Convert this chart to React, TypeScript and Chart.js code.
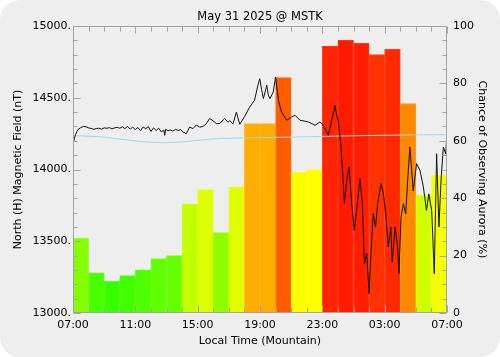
import { useEffect, useRef } from 'react';
import { Chart, registerables } from 'chart.js';

Chart.register(...registerables);

const chartTitle = 'May 31 2025 @ MSTK';
const xTitle = 'Local Time (Mountain)';
const leftTitle = 'North (H) Magnetic Field (nT)';
const rightTitle = 'Chance of Observing Aurora (%)';

// hourly bars, starting 07:00 local
const barHours = [7, 8, 9, 10, 11, 12, 13, 14, 15, 16, 17, 18, 19, 20, 21, 22, 23, 0, 1, 2, 3, 4, 5, 6];
const auroraChance = [26, 14, 11, 13, 15, 19, 20, 38, 43, 28, 44, 66, 66, 82, 49, 50, 93, 95, 94, 90, 92, 73, 41, 48];

// magnetic field: minutes since 07:00, value nT
const fieldMinutes = [
  0, 5, 10, 15, 20, 30, 40, 50, 60, 70, 80, 90, 100, 110, 120, 130, 140, 150, 160, 170,
  180, 190, 200, 210, 220, 230, 240, 250, 260, 270, 280, 290, 300, 310, 320, 330, 340, 350, 353, 357,
  365, 375, 385, 395, 405, 415, 423, 436, 449, 462, 475, 488, 500, 513, 526, 539, 552, 565, 584, 597,
  603, 616, 629, 635, 642, 661, 680, 699, 712, 719, 726, 733, 746, 752, 758, 771, 780, 791, 803, 823,
  842, 855, 874, 890, 906, 920, 932, 951, 964, 983, 996, 1009, 1015, 1021, 1032, 1037, 1045, 1054, 1063, 1073,
  1083, 1092, 1105, 1114, 1122, 1131, 1140, 1147, 1156, 1165, 1173, 1186, 1195, 1204, 1214, 1224, 1229, 1240, 1250, 1255,
  1263, 1272, 1281, 1291, 1297, 1304, 1310, 1323, 1336, 1349, 1361, 1370, 1381, 1391, 1400, 1409, 1417, 1426, 1435, 1440,
];
const fieldValues = [
  14169, 14215, 14245, 14265, 14280, 14292, 14300, 14298, 14290, 14286, 14280, 14285, 14288, 14281, 14290, 14287, 14292, 14283, 14290, 14294,
  14288, 14297, 14285, 14300, 14282, 14295, 14278, 14293, 14270, 14296, 14284, 14299, 14265, 14290, 14272, 14288, 14262, 14275, 14238, 14280,
  14270, 14275, 14268, 14280, 14272, 14278, 14262, 14250, 14296, 14285, 14310, 14295, 14300, 14318, 14355, 14340, 14320, 14320, 14355, 14330,
  14340, 14318, 14400, 14360, 14315, 14370, 14435, 14482, 14587, 14633, 14560, 14494, 14587, 14520, 14494, 14540, 14644, 14482, 14400, 14343,
  14366, 14378, 14343, 14338, 14331, 14320, 14308, 14331, 14308, 14238, 14343, 14447, 14380, 14343, 14157, 14017, 13762, 13925, 14017, 13762,
  13576, 13715, 13937, 13762, 13344, 13414, 13135, 13414, 13692, 13600, 13762, 13902, 13832, 13692, 13460, 13599, 13355, 13599, 13460, 13274,
  13669, 13762, 13692, 13994, 14157, 13994, 13850, 14041, 13994, 13878, 13715, 13830, 13715, 13274, 14110, 13599, 13925, 14157, 14110, 14250,
];

// quiet-day baseline
const baseMinutes = [0, 60, 120, 180, 240, 300, 360, 420, 480, 540, 600, 720, 900, 1080, 1260, 1440];
const baseValues = [14235, 14232, 14225, 14212, 14200, 14190, 14188, 14192, 14203, 14213, 14218, 14222, 14228, 14235, 14240, 14243];

const FONT = 'DejaVu Sans';

function chanceRgb(v: number): [number, number, number] {
  if (v <= 50) return [Math.round((255 * v) / 50), 255, 0];
  return [255, Math.round((255 * (100 - v)) / 50), 0];
}
function chanceColor(v: number) {
  const [r, g, b] = chanceRgb(v);
  return `rgb(${r},${g},${b})`;
}
function chanceEdge(v: number) {
  const [r, g, b] = chanceRgb(v);
  const m = (c: number) => Math.round(c + (255 - c) * 0.12);
  return `rgb(${m(r)},${m(g)},${m(b)})`;
}

function hourLabel(v: number) {
  const h = (7 + Math.round(v / 60)) % 24;
  return (h < 10 ? '0' : '') + h + ':00';
}

const framePlugin = {
  id: 'frame',
  afterDatasetsDraw(chart: any) {
    const { ctx, chartArea: a, scales } = chart;
    const L = Math.round(a.left) + 0.5;
    const R = Math.round(a.right) - 0.5;
    const T = Math.round(a.top) + 0.5;
    const B = Math.round(a.bottom) - 0.5;
    ctx.save();
    ctx.strokeStyle = '#a3a3a3';
    ctx.lineWidth = 1;
    ctx.beginPath();
    ctx.rect(L, T, R - L, B - T);
    for (let v = 13000; v <= 15000; v += 100) {
      const y = Math.round(scales.y.getPixelForValue(v)) + 0.5;
      const len = v % 500 === 0 ? 7 : 4;
      ctx.moveTo(L, y);
      ctx.lineTo(L + len, y);
    }
    for (let v = 0; v <= 100; v += 5) {
      const y = Math.round(scales.y2.getPixelForValue(v)) + 0.5;
      const len = v % 20 === 0 ? 7 : 4;
      ctx.moveTo(R, y);
      ctx.lineTo(R - len, y);
    }
    for (let m = 0; m <= 1440; m += 60) {
      const x = Math.round(scales.x.getPixelForValue(m)) + 0.5;
      const len = m % 240 === 0 ? 7 : 5;
      ctx.moveTo(x, B);
      ctx.lineTo(x, B - len);
      ctx.moveTo(x, T);
      ctx.lineTo(x, T + len);
    }
    ctx.stroke();
    ctx.restore();
  },
};

export default function App() {
  const ref = useRef<HTMLCanvasElement | null>(null);

  useEffect(() => {
    document.body.style.margin = '0';
    const canvas = ref.current;
    if (!canvas) return;
    const chart = new Chart(canvas, {
      type: 'bar',
      data: {
        datasets: [
          {
            type: 'bar',
            label: 'Aurora',
            data: auroraChance.map((v, i) => ({ x: i * 60 + 30, y: v, h: barHours[i] })) as any,
            yAxisID: 'y2',
            xAxisID: 'x',
            backgroundColor: auroraChance.map(chanceColor),
            borderColor: auroraChance.map(chanceEdge),
            borderWidth: 1,
            borderSkipped: false,
            barPercentage: 1,
            categoryPercentage: 1,
            order: 3,
          },
          {
            type: 'line',
            label: 'Baseline',
            data: baseMinutes.map((m, i) => ({ x: m, y: baseValues[i] })),
            yAxisID: 'y',
            xAxisID: 'x',
            borderColor: '#9fd6ea',
            borderWidth: 1,
            pointRadius: 0,
            tension: 0.4,
            order: 2,
          },
          {
            type: 'line',
            label: 'Field',
            data: fieldMinutes.map((m, i) => ({ x: m, y: fieldValues[i] })),
            yAxisID: 'y',
            xAxisID: 'x',
            borderColor: '#111111',
            borderWidth: 1,
            pointRadius: 0,
            tension: 0,
            order: 1,
          },
        ],
      },
      options: {
        animation: false,
        responsive: false,
        maintainAspectRatio: false,
        layout: { padding: 0 },
        plugins: {
          legend: { display: false },
          tooltip: { enabled: false },
          title: {
            display: true,
            text: chartTitle,
            fullSize: false,
            color: '#000',
            font: { family: FONT, size: 11.5, weight: 'normal', lineHeight: 1.2 },
            padding: { top: 10, bottom: 2.2 },
          },
        },
        scales: {
          x: {
            type: 'linear',
            position: 'bottom',
            min: 0,
            max: 1440,
            offset: false,
            grid: { display: false, drawTicks: false, offset: false },
            border: { display: false },
            ticks: {
              stepSize: 240,
              autoSkip: false,
              maxRotation: 0,
              padding: 6,
              color: '#000',
              font: { family: FONT, size: 11 },
              callback: (v: any) => hourLabel(Number(v)),
            },
            title: {
              display: true,
              text: xTitle,
              color: '#000',
              font: { family: FONT, size: 11 },
              padding: { top: 0, bottom: 9.5 },
            },
            afterFit: (s: any) => {
              s.height = 44;
            },
          },
          y: {
            type: 'linear',
            position: 'left',
            min: 13000,
            max: 15000,
            grid: { display: false, drawTicks: false },
            border: { display: false },
            ticks: {
              stepSize: 500,
              padding: 2,
              color: '#000',
              font: { family: FONT, size: 11 },
              callback: (v: any) => v + '.',
            },
            title: {
              display: true,
              text: leftTitle,
              color: '#000',
              font: { family: FONT, size: 11 },
              padding: { top: 11.5, bottom: 0 },
            },
            afterFit: (s: any) => {
              s.width = 73;
            },
          },
          y2: {
            type: 'linear',
            position: 'right',
            min: 0,
            max: 100,
            grid: { display: false, drawTicks: false },
            border: { display: false },
            ticks: {
              stepSize: 20,
              padding: 6,
              color: '#000',
              font: { family: FONT, size: 11 },
            },
            title: {
              display: true,
              text: rightTitle,
              color: '#000',
              font: { family: FONT, size: 11 },
              padding: { top: 11.5, bottom: 0 },
            },
            afterFit: (s: any) => {
              s.width = 53;
            },
          },
        },
      },
      plugins: [framePlugin],
    });
    return () => chart.destroy();
  }, []);

  return (
    <div
      style={{
        width: 500,
        height: 357,
        background: '#eeeeee',
        borderRadius: 20,
        overflow: 'hidden',
      }}
    >
      <canvas ref={ref} width={500} height={357} style={{ display: 'block', width: 500, height: 357 }} />
    </div>
  );
}
